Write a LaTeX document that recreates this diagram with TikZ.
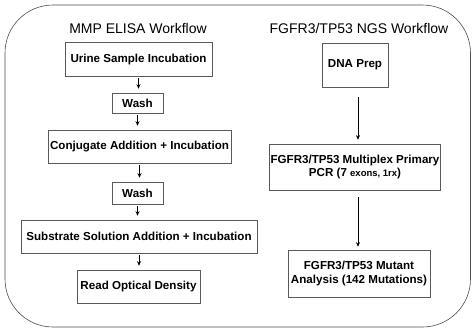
\documentclass[tikz,border=0pt]{standalone}
\usepackage{fontspec}
\setmainfont{Liberation Sans}
\usepackage{tikz}
\usetikzlibrary{arrows.meta}

\begin{document}
\begin{tikzpicture}[x=1pt,y={(0pt,-1pt)},
  stepbox/.style={rectangle,draw=black!65,line width=0.6pt,align=center,inner sep=1pt,font=\fontsize{11.6}{13.4}\selectfont\bfseries},
  flowtitle/.style={font=\fontsize{14}{16}\selectfont},
  flow/.style={-{Stealth[length=4.5pt,width=4pt]},line width=0.9pt}]
  \useasboundingbox (0,0) rectangle (472,330);
  \draw[black!70,line width=0.6pt,rounded corners=48pt] (5,5) rectangle (470.5,327);

  \node[flowtitle] (t1) at (138,28) {MMP ELISA Workflow};
  \node[flowtitle] (t2) at (359,28) {FGFR3/TP53 NGS Workflow};

  % ELISA steps
  \node[stepbox,minimum width=147pt,minimum height=34pt] (e1) at (138.5,59) {Urine Sample Incubation};
  \node[stepbox,minimum width=51pt,minimum height=20pt] (e2) at (137.5,103) {Wash};
  \node[stepbox,minimum width=183pt,minimum height=33pt] (e3) at (139.5,146.5) {Conjugate Addition + Incubation};
  \node[stepbox,minimum width=51pt,minimum height=22pt] (e4) at (137.5,193) {Wash};
  \node[stepbox,minimum width=236pt,minimum height=33pt] (e5) at (139,236.5) {Substrate Solution Addition + Incubation};
  \node[stepbox,minimum width=123pt,minimum height=33pt] (e6) at (138.5,286.5) {Read Optical Density};

  \foreach \a/\b in {e1/e2,e2/e3,e3/e4,e4/e5,e5/e6}
    \draw[flow,shorten <=2pt,shorten >=4pt] (\a.south) -- (\a.south |- \b.north);

  % NGS steps
  \node[stepbox,minimum width=66pt,minimum height=44pt] (n1) at (355,65) {DNA Prep};
  \node[stepbox,minimum width=166pt,minimum height=46pt] (n2) at (355,167) {FGFR3/TP53 Multiplex Primary\\PCR (7 {\fontsize{9.5}{11}\selectfont exons, 1rx})};
  \node[stepbox,minimum width=142pt,minimum height=47pt] (n3) at (359,273.5) {FGFR3/TP53 Mutant\\Analysis (142 Mutations)};

  \draw[flow,shorten <=10pt,shorten >=4pt] ([xshift=3pt]n1.south) -- ([xshift=3pt]n1.south |- n2.north);
  \draw[flow,shorten <=7pt,shorten >=3pt] ([xshift=3pt]n2.south) -- ([xshift=3pt]n2.south |- n3.north);
\end{tikzpicture}
\end{document}
